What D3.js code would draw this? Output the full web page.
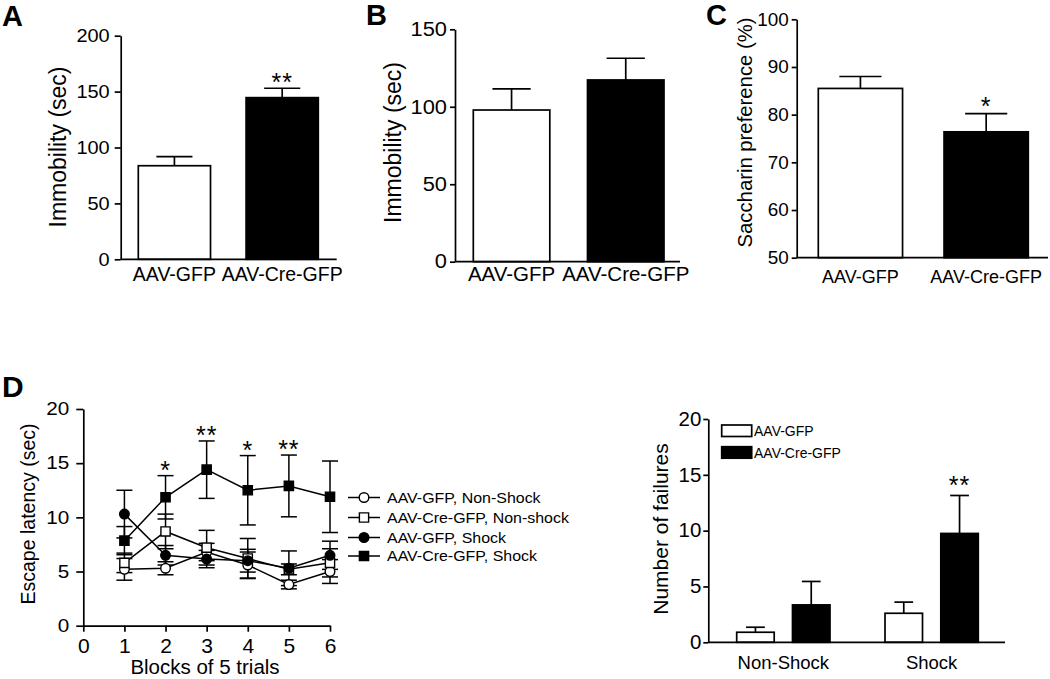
<!DOCTYPE html>
<html><head><meta charset="utf-8">
<script src="https://cdn.jsdelivr.net/npm/d3@7"></script>
<style>
body{margin:0;background:#fff}
svg{display:block}
text{font-family:'Liberation Sans',Arial,Helvetica,sans-serif;fill:#000}
</style>
</head><body>
<svg id="chart" width="1050" height="679"></svg>
<script>
// ---------------- DATA ----------------
const groupLabels = ["AAV-GFP", "AAV-Cre-GFP"];
const groupFills = ["#fff", "#000"];

const immobilityA = [83.7, 144.6];
const immobilityAErr = [8.1, 8.4];
const starsA = ["", "**"];
const ticksA = [0, 50, 100, 150, 200];

const immobilityB = [97.9, 117.3];
const immobilityBErr = [13.6, 14.0];
const starsB = ["", ""];
const ticksB = [0, 50, 100, 150];

const saccharin = [85.5, 76.4];
const saccharinErr = [2.5, 3.8];
const starsC = ["", "*"];
const ticksC = [50, 60, 70, 80, 90, 100];

const blocks = [1, 2, 3, 4, 5, 6];
const blockTicks = [0, 1, 2, 3, 4, 5, 6];
const latencyTicks = [0, 5, 10, 15, 20];
const seriesNames = ["AAV-GFP, Non-Shock", "AAV-Cre-GFP, Non-shock", "AAV-GFP, Shock", "AAV-Cre-GFP, Shock"];
const gfpNonShock = [5.2, 5.3, 6.8, 5.6, 3.8, 5.0];
const gfpNonShockErr = [1.0, 0.6, 0.8, 1.2, 0.4, 1.1];
const creNonShock = [5.8, 8.7, 7.2, 6.2, 5.2, 5.8];
const creNonShockErr = [0.9, 1.6, 1.6, 1.85, 0.5, 1.3];
const gfpShock = [10.3, 6.5, 6.15, 6.0, 5.3, 6.5];
const gfpShockErr = [2.2, 0.9, 0.8, 1.05, 1.6, 1.3];
const creShock = [7.85, 11.85, 14.4, 12.5, 12.9, 11.9];
const creShockErr = [1.3, 2.0, 2.65, 3.2, 2.85, 3.3];
const latencyStars = ["", "*", "**", "*", "**", ""];

const failGroups = ["Non-Shock", "Shock"];
const failGFP = [0.9, 2.6];
const failGFPErr = [0.45, 1.0];
const failCre = [3.35, 9.75];
const failCreErr = [2.1, 3.4];
const failStarsGFP = ["", ""];
const failStarsCre = ["", "**"];
const failTicks = [0, 5, 10, 15, 20];

// ---------------- HELPERS ----------------
const svg = d3.select("#chart");
const FONT = "'Liberation Sans',Arial,Helvetica,sans-serif";
const SW = 1.7;
const STAR = 25;

function styleYAxis(g, fontSize, sx, offset) {
  g.attr("font-size", fontSize).attr("font-family", FONT);
  g.select(".domain").attr("stroke-width", SW);
  g.selectAll(".tick line").attr("stroke-width", SW);
  g.selectAll(".tick text").attr("fill", "#000")
    .attr("transform", `scale(${sx},1)`).attr("x", -offset / sx);
}

function panelLetter(txt, x, y, size) {
  svg.append("text").attr("x", x).attr("y", y).attr("font-size", size)
    .attr("font-weight", "bold").text(txt);
}

function rotLabel(txt, x, y, size) {
  svg.append("text").attr("transform", `translate(${x},${y}) rotate(-90)`)
    .attr("text-anchor", "middle").attr("font-size", size).text(txt);
}

function stars(g, x, y, size, s) {
  if (!s) return;
  g.append("text").attr("x", x).attr("y", y).attr("text-anchor", "middle")
    .attr("font-size", size).attr("letter-spacing", 1).text(s);
}

function errUp(g, cx, yTop, yBar, half) {
  g.append("line").attr("x1", cx).attr("x2", cx).attr("y1", yBar).attr("y2", yTop)
    .attr("stroke", "#000").attr("stroke-width", SW);
  g.append("line").attr("x1", cx - half).attr("x2", cx + half).attr("y1", yTop).attr("y2", yTop)
    .attr("stroke", "#000").attr("stroke-width", SW);
}

function barPanel(o) {
  const g = svg.append("g");
  const y = d3.scaleLinear().domain(o.domain).range([o.bottom, o.top]);
  const x = d3.scaleBand().domain(groupLabels).range(o.bandRange).paddingInner(0.33).paddingOuter(0);
  groupLabels.forEach((c, i) => {
    const v = o.values[i], e = o.errs[i];
    const cx = x(c) + x.bandwidth() / 2;
    errUp(g, cx, y(v + e), y(v), x.bandwidth() / 4);
    g.append("rect").attr("x", x(c)).attr("width", x.bandwidth())
      .attr("y", y(v)).attr("height", y(o.domain[0]) - y(v))
      .attr("fill", groupFills[i]).attr("stroke", "#000").attr("stroke-width", SW);
    stars(g, cx, y(v + e) + o.starDy, STAR, o.stars[i]);
  });
  g.append("line").attr("x1", o.left).attr("x2", o.right).attr("y1", o.bottom).attr("y2", o.bottom)
    .attr("stroke", "#000").attr("stroke-width", SW);
  groupLabels.forEach(c => {
    g.append("text").attr("x", x(c) + x.bandwidth() / 2).attr("y", o.labelY)
      .attr("text-anchor", "middle").attr("font-size", o.catSize).text(c);
  });
  const ya = g.append("g").attr("transform", `translate(${o.left},0)`)
    .call(d3.axisLeft(y).tickValues(o.ticks).tickSize(o.tickSize).tickSizeOuter(0).tickPadding(o.tickPad));
  styleYAxis(ya, o.tickFont, o.tickSx, o.tickSize + o.tickPad);
}

// ---------------- PANEL A ----------------
panelLetter("A", 2, 26, 29);
barPanel({left: 120.7, right: 336.7, top: 35.7, bottom: 259.3, domain: [0, 200], ticks: ticksA,
  bandRange: [138.3, 318.3], values: immobilityA, errs: immobilityAErr, stars: starsA, starDy: 3,
  tickSize: 6, tickPad: 5, tickFont: 19, tickSx: 1.05, labelY: 281, catSize: 19.5});
rotLabel("Immobility (sec)", 66, 147, 23);

// ---------------- PANEL B ----------------
panelLetter("B", 366, 25, 29);
barPanel({left: 455, right: 680, top: 29.3, bottom: 261.7, domain: [0, 150], ticks: ticksB,
  bandRange: [473.3, 664], values: immobilityB, errs: immobilityBErr, stars: starsB, starDy: 3,
  tickSize: 5, tickPad: 3, tickFont: 19.5, tickSx: 1.12, labelY: 281, catSize: 20.5});
rotLabel("Immobility (sec)", 401, 142.5, 23);

// ---------------- PANEL C ----------------
panelLetter("C", 706, 25, 29);
barPanel({left: 796.7, right: 1048, top: 19.3, bottom: 257.7, domain: [50, 100], ticks: ticksC,
  bandRange: [818.3, 1028.3], values: saccharin, errs: saccharinErr, stars: starsC, starDy: 1,
  tickSize: 5, tickPad: 3, tickFont: 18, tickSx: 1.05, labelY: 283, catSize: 18});
rotLabel("Saccharin preference (%)", 752, 132.5, 20.3);

// ---------------- PANEL D (line) ----------------
panelLetter("D", 2, 397, 30);
{
  const g = svg.append("g");
  const x = d3.scaleLinear().domain([0, 6]).range([83.3, 330]);
  const y = d3.scaleLinear().domain([0, 20]).range([625.7, 409]);
  const series = [
    {name: seriesNames[0], v: gfpNonShock, e: gfpNonShockErr, shape: "circle", fill: "#fff"},
    {name: seriesNames[1], v: creNonShock, e: creNonShockErr, shape: "square", fill: "#fff"},
    {name: seriesNames[2], v: gfpShock, e: gfpShockErr, shape: "circle", fill: "#000"},
    {name: seriesNames[3], v: creShock, e: creShockErr, shape: "square", fill: "#000"}
  ];
  const line = d3.line().x(d => x(d[0])).y(d => y(d[1]));
  const sym = d3.symbol();
  function marker(sel, s, px, py) {
    if (s.shape === "circle") {
      sel.append("circle").attr("cx", px).attr("cy", py).attr("r", 4.8)
        .attr("fill", s.fill).attr("stroke", "#000").attr("stroke-width", 1.4);
    } else {
      sel.append("path").attr("transform", `translate(${px},${py})`)
        .attr("d", sym.type(d3.symbolSquare).size(85)())
        .attr("fill", s.fill).attr("stroke", "#000").attr("stroke-width", 1.4);
    }
  }
  series.forEach(s => {
    blocks.forEach((b, i) => {
      const cx = x(b), y1 = y(s.v[i] - s.e[i]), y2 = y(s.v[i] + s.e[i]);
      g.append("line").attr("x1", cx).attr("x2", cx).attr("y1", y1).attr("y2", y2)
        .attr("stroke", "#000").attr("stroke-width", 1.5);
      [y1, y2].forEach(yy => g.append("line").attr("x1", cx - 8).attr("x2", cx + 8)
        .attr("y1", yy).attr("y2", yy).attr("stroke", "#000").attr("stroke-width", 1.5));
    });
    g.append("path").attr("d", line(blocks.map((b, i) => [b, s.v[i]])))
      .attr("fill", "none").attr("stroke", "#000").attr("stroke-width", 1.5);
  });
  series.forEach(s => blocks.forEach((b, i) => marker(g, s, x(b), y(s.v[i]))));
  blocks.forEach((b, i) => stars(g, x(b), y(creShock[i] + creShockErr[i]) + 3, STAR, latencyStars[i]));
  const ya = g.append("g").attr("transform", "translate(83.3,0)")
    .call(d3.axisLeft(y).tickValues(latencyTicks).tickSize(7).tickSizeOuter(0).tickPadding(7));
  styleYAxis(ya, 18, 1.15, 14);
  const xa = g.append("g").attr("transform", "translate(0,625.7)")
    .call(d3.axisBottom(x).tickValues(blockTicks).tickFormat(d3.format("d"))
      .tickSize(6).tickSizeOuter(0).tickPadding(6));
  xa.attr("font-size", 21).attr("font-family", FONT);
  xa.select(".domain").attr("stroke-width", SW);
  xa.selectAll(".tick line").attr("stroke-width", SW);
  xa.selectAll(".tick text").attr("fill", "#000");
  g.append("text").attr("x", 205).attr("y", 674).attr("text-anchor", "middle")
    .attr("font-size", 20.5).text("Blocks of 5 trials");
  rotLabel("Escape latency (sec)", 35, 514, 19.5);
  const ly = [497.5, 517.5, 537.5, 556];
  series.forEach((s, i) => {
    g.append("line").attr("x1", 348).attr("x2", 380).attr("y1", ly[i]).attr("y2", ly[i])
      .attr("stroke", "#000").attr("stroke-width", 1.5);
    marker(g, s, 364, ly[i]);
    g.append("text").attr("transform", `translate(387,${ly[i]}) scale(1.1,1)`)
      .attr("dy", "0.36em").attr("font-size", 14.5).text(s.name);
  });
}

// ---------------- PANEL D (failures bars) ----------------
{
  const g = svg.append("g");
  const y = d3.scaleLinear().domain([0, 20]).range([642.3, 419]);
  const x0 = d3.scaleBand().domain(failGroups).range([736.7, 978.3]).paddingInner(0.371).paddingOuter(0);
  const x1 = d3.scaleBand().domain(groupLabels).range([0, x0.bandwidth()]).paddingInner(0.328).paddingOuter(0);
  const vals = [failGFP, failCre], errs = [failGFPErr, failCreErr], st = [failStarsGFP, failStarsCre];
  failGroups.forEach((grp, gi) => {
    groupLabels.forEach((c, si) => {
      const v = vals[si][gi], e = errs[si][gi];
      const bx = x0(grp) + x1(c), cx = bx + x1.bandwidth() / 2;
      errUp(g, cx, y(v + e), y(v), x1.bandwidth() / 4);
      g.append("rect").attr("x", bx).attr("width", x1.bandwidth()).attr("y", y(v))
        .attr("height", y(0) - y(v)).attr("fill", groupFills[si]).attr("stroke", "#000").attr("stroke-width", SW);
      stars(g, cx, y(v + e) - 1, STAR, st[si][gi]);
    });
    g.append("text").attr("x", x0(grp) + x0.bandwidth() / 2).attr("y", 669)
      .attr("text-anchor", "middle").attr("font-size", 18.5).text(grp);
  });
  g.append("line").attr("x1", 708.3).attr("x2", 1005).attr("y1", 642.3).attr("y2", 642.3)
    .attr("stroke", "#000").attr("stroke-width", SW);
  const ya = g.append("g").attr("transform", "translate(708.3,0)")
    .call(d3.axisLeft(y).tickValues(failTicks).tickSize(5).tickSizeOuter(0).tickPadding(2));
  styleYAxis(ya, 19.5, 1.05, 7);
  rotLabel("Number of failures", 668, 529, 21);
  const ly = [425, 446.7];
  groupLabels.forEach((c, i) => {
    g.append("rect").attr("x", 721.7).attr("y", ly[i]).attr("width", 30).attr("height", 11.5)
      .attr("fill", groupFills[i]).attr("stroke", "#000").attr("stroke-width", SW);
    g.append("text").attr("x", 754).attr("y", ly[i] + 5.8).attr("dy", "0.36em")
      .attr("font-size", 14).text(c);
  });
}
</script>
</body></html>
